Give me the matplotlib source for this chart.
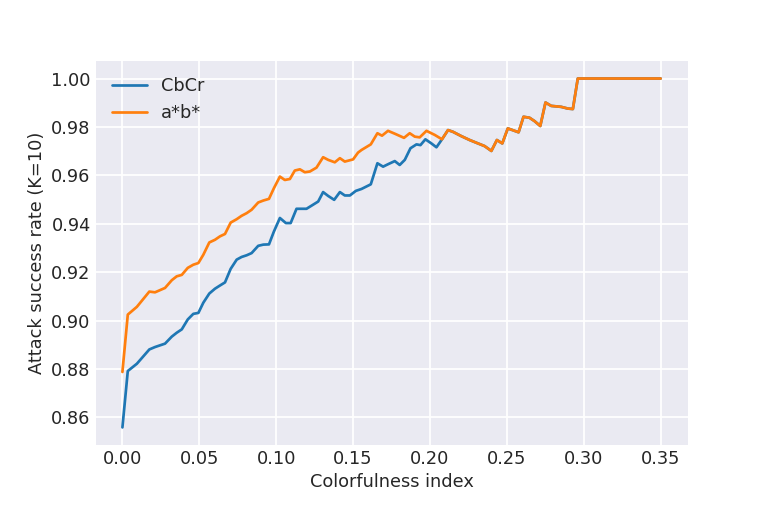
import matplotlib
matplotlib.use("Agg")
import matplotlib.pyplot as plt
from matplotlib.ticker import FormatStrFormatter

# CbCr curve up to where it joins the a*b* curve
cbcr_x = [0.0000, 0.0035, 0.0094, 0.0175, 0.0212, 0.0277, 0.0321, 0.0353,
          0.0386, 0.0425, 0.0461, 0.0494, 0.0526, 0.0565, 0.0602, 0.0634,
          0.0667, 0.0704, 0.0743, 0.0775, 0.0808, 0.0840, 0.0883, 0.0916,
          0.0953, 0.0985, 0.1024, 0.1063, 0.1094, 0.1132, 0.1197, 0.1230,
          0.1273, 0.1305, 0.1338, 0.1377, 0.1414, 0.1446, 0.1479, 0.1518,
          0.1555, 0.1615, 0.1658, 0.1695, 0.1727, 0.1771, 0.1803, 0.1836,
          0.1873, 0.1912, 0.1938, 0.1970, 0.2009, 0.2042, 0.2078]
cbcr_y = [0.8559, 0.8792, 0.8822, 0.8881, 0.8891, 0.8905, 0.8934, 0.8950,
          0.8964, 0.9005, 0.9028, 0.9032, 0.9074, 0.9112, 0.9132, 0.9145,
          0.9158, 0.9214, 0.9252, 0.9263, 0.9270, 0.9279, 0.9309, 0.9314,
          0.9315, 0.9368, 0.9424, 0.9403, 0.9403, 0.9462, 0.9462, 0.9475,
          0.9492, 0.9531, 0.9515, 0.9499, 0.9531, 0.9517, 0.9517, 0.9536,
          0.9544, 0.9563, 0.9650, 0.9636, 0.9646, 0.9659, 0.9643, 0.9664,
          0.9712, 0.9728, 0.9725, 0.9749, 0.9732, 0.9716, 0.9749]

# a*b* curve up to the same point
ab_x = [0.0000, 0.0035, 0.0094, 0.0175, 0.0212, 0.0277, 0.0321, 0.0353,
        0.0386, 0.0425, 0.0461, 0.0494, 0.0526, 0.0565, 0.0602, 0.0634,
        0.0667, 0.0704, 0.0743, 0.0775, 0.0808, 0.0840, 0.0883, 0.0916,
        0.0953, 0.0985, 0.1024, 0.1056, 0.1089, 0.1121, 0.1154, 0.1186,
        0.1219, 0.1262, 0.1305, 0.1338, 0.1381, 0.1414, 0.1446, 0.1500,
        0.1532, 0.1555, 0.1615, 0.1658, 0.1688, 0.1727, 0.1775, 0.1831,
        0.1868, 0.1901, 0.1933, 0.1977, 0.2031, 0.2078]
ab_y = [0.8788, 0.9025, 0.9057, 0.9120, 0.9117, 0.9135, 0.9167, 0.9183,
        0.9189, 0.9218, 0.9231, 0.9238, 0.9272, 0.9323, 0.9334, 0.9348,
        0.9358, 0.9405, 0.9419, 0.9433, 0.9444, 0.9458, 0.9488, 0.9496,
        0.9503, 0.9547, 0.9595, 0.9581, 0.9585, 0.9620, 0.9625, 0.9613,
        0.9616, 0.9632, 0.9675, 0.9664, 0.9654, 0.9671, 0.9657, 0.9666,
        0.9694, 0.9705, 0.9728, 0.9774, 0.9764, 0.9784, 0.9771, 0.9755,
        0.9774, 0.9760, 0.9757, 0.9784, 0.9767, 0.9749]

# from here on both curves coincide
tail_x = [0.2117, 0.2149, 0.2204, 0.2258, 0.2312, 0.2355, 0.2399, 0.2435,
          0.2470, 0.2506, 0.2576, 0.2608, 0.2647, 0.2680, 0.2717, 0.2751,
          0.2788, 0.2853, 0.2896, 0.2929, 0.2961, 0.3500]
tail_y = [0.9787, 0.9780, 0.9762, 0.9746, 0.9732, 0.9721, 0.9701, 0.9746,
          0.9732, 0.9794, 0.9778, 0.9842, 0.9838, 0.9824, 0.9804, 0.9901,
          0.9887, 0.9883, 0.9876, 0.9874, 1.0000, 1.0000]

plt.style.use("seaborn-v0_8-darkgrid")
plt.rcParams['font.family'] = ['DejaVu Sans']
plt.rcParams['font.size'] = 12.8
plt.rcParams['axes.labelsize'] = 12.8
plt.rcParams['xtick.labelsize'] = 12.8
plt.rcParams['ytick.labelsize'] = 12.8
plt.rcParams['legend.fontsize'] = 12.8
plt.rcParams['lines.linewidth'] = 1.95
plt.rcParams['grid.linewidth'] = 1.3
plt.rcParams['axes.prop_cycle'] = matplotlib.cycler(color=["#1f77b4", "#ff7f0e"])

fig, ax = plt.subplots(figsize=(7.64, 5.09), dpi=100)
fig.subplots_adjust(left=0.125, right=0.9, top=0.88, bottom=0.126)

ax.plot(cbcr_x + tail_x, cbcr_y + tail_y, label="CbCr")
ax.plot(ab_x + tail_x, ab_y + tail_y, label="a*b*")

ax.set_xlabel("Colorfulness index")
ax.set_ylabel("Attack success rate (K=10)")
ax.set_xticks([0.0, 0.05, 0.10, 0.15, 0.20, 0.25, 0.30, 0.35])
ax.xaxis.set_major_formatter(FormatStrFormatter("%.2f"))
ax.yaxis.set_major_formatter(FormatStrFormatter("%.2f"))
ax.legend(loc="upper left", frameon=False)

fig.savefig("out.png", dpi=100)
